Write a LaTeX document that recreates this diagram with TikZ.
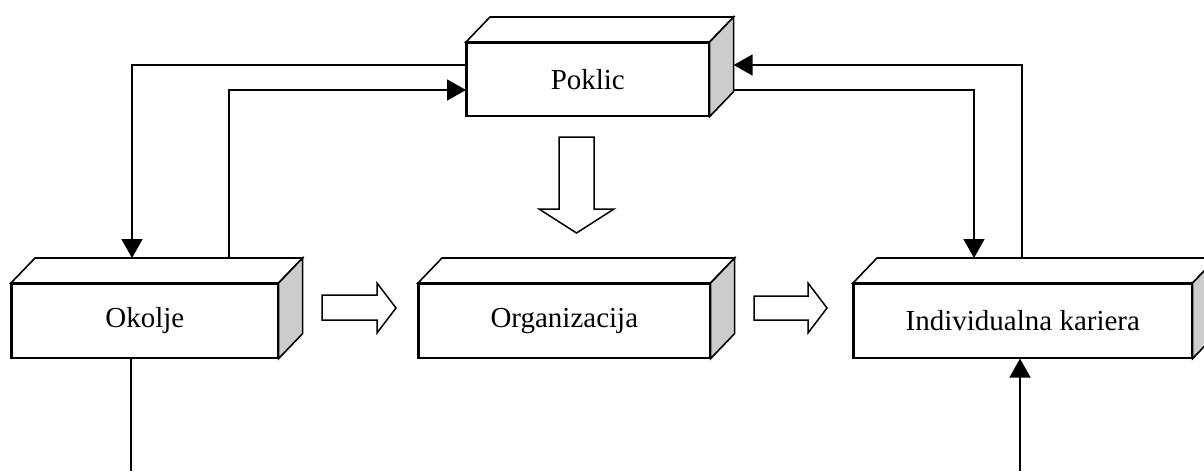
\documentclass[tikz,border=0pt]{standalone}
\usepackage{fontspec}
\setmainfont{Liberation Serif}
\usetikzlibrary{calc,arrows.meta}
\tikzset{
  front/.style={draw, line width=1.6pt, fill=white, inner sep=0pt, anchor=north west,
    minimum height=74pt, font=\fontsize{29}{34}\selectfont},
  face/.style={draw, line width=1.6pt, line join=miter, fill=white},
  sideface/.style={face, fill=gray!40},
  conn/.style={line width=1.6pt},
  arr/.style={conn, -{Triangle[length=19pt,width=21pt]}},
  blockarrow/.style={draw, line width=1.5pt, fill=white, line join=miter}
}
\newcommand\boxfaces[1]{%
  \draw[face] (#1.north west) -- ++(24,-25) -- ($(#1.north east)+(24,-25)$) -- (#1.north east) -- cycle;
  \draw[sideface] (#1.north east) -- ++(24,-25) -- ($(#1.south east)+(24,-25)$) -- (#1.south east) -- cycle;
  \draw[line width=1.6pt] (#1.north west) rectangle (#1.south east);
}
\begin{document}
\begin{tikzpicture}[x=1pt,y=-1pt]
\useasboundingbox (0,0) rectangle (1204,471);
\clip (0,0) rectangle (1204,471);
% boxes
\node[front, minimum width=242pt, minimum height=73pt] (poklic) at (466,42) {Poklic};
\boxfaces{poklic}
\node[front, minimum width=266pt] (okolje) at (11,283) {Okolje};
\boxfaces{okolje}
\node[front, minimum width=291pt] (org) at (418,283) {Organizacija};
\boxfaces{org}
\node[front, minimum width=338pt] (indiv) at (853,283) {Individualna kariera};
\boxfaces{indiv}
% connectors
\draw[arr] ($(poklic.north west)+(0,23)$) -| ($(okolje.north west)+(121,-25)$);
\draw[arr] ($(okolje.north west)+(218,-25)$) |- ($(poklic.north west)+(0,48)$);
\draw[arr] ($(indiv.north west)+(169,-25)$) |- ($(poklic.north east)+(24,23)$);
\draw[arr] ($(poklic.north east)+(24,48)$) -| ($(indiv.north west)+(121,-25)$);
\coordinate (okb) at (131,471);
\coordinate (inb) at (1020,471);
\draw[conn] (okb |- okolje.south) -- (okb);
\draw[arr] (inb) -- (inb |- indiv.south);
% block arrows
\draw[blockarrow] (322,295) -- (377,295) -- (377,283) -- (396,308) -- (377,333) -- (377,320) -- (322,320) -- cycle;
\draw[blockarrow] (754,296) -- (808,296) -- (808,283) -- (827,308) -- (808,333) -- (808,320) -- (754,320) -- cycle;
\draw[blockarrow] (559,137) -- (594,137) -- (594,209) -- (614,209) -- (576.5,233) -- (539,209) -- (559,209) -- cycle;
\end{tikzpicture}
\end{document}
